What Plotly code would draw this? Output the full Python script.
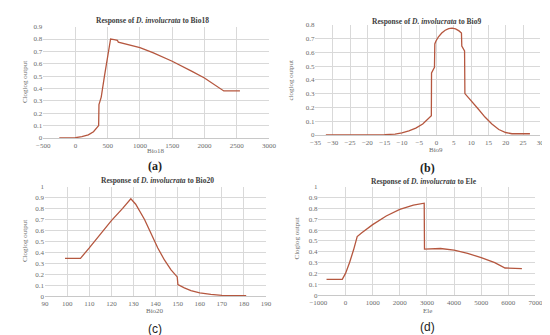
import plotly.graph_objects as go

W, H = 550, 335

# ---- data ----
bio18_x = [-250, 0, 100, 200, 280, 330, 360, 365, 400, 450, 500, 545, 600, 650, 665, 700, 800, 1000, 1200, 1500, 1800, 2000, 2300, 2550]
bio18_y = [0.0, 0.002, 0.01, 0.025, 0.05, 0.08, 0.1, 0.27, 0.33, 0.5, 0.66, 0.80, 0.795, 0.79, 0.775, 0.77, 0.76, 0.73, 0.69, 0.62, 0.54, 0.485, 0.38, 0.38]

bio9_x = [-32, -20, -15, -12, -10, -8, -6, -4, -2.5, -1.5, -1.45, -1.0, -0.6, -0.5, -0.2, 0.5, 1.5, 2.5, 3.5, 4.5, 5.5, 6.5, 7.2, 7.3, 7.9, 8.1, 8.2, 10, 12, 14, 16, 18, 20, 21.8, 27]
bio9_y = [0.0, 0.0, 0.002, 0.007, 0.015, 0.03, 0.05, 0.08, 0.115, 0.14, 0.45, 0.47, 0.49, 0.66, 0.68, 0.71, 0.74, 0.76, 0.772, 0.775, 0.77, 0.755, 0.74, 0.645, 0.625, 0.61, 0.30, 0.25, 0.19, 0.13, 0.08, 0.04, 0.018, 0.009, 0.009]

bio20_x = [99, 106, 110, 115, 120, 125, 128.8, 131, 135, 138, 141, 144, 147, 149.8, 150.1, 153, 156, 160, 165, 170, 175, 181]
bio20_y = [0.345, 0.345, 0.44, 0.565, 0.69, 0.80, 0.89, 0.84, 0.70, 0.57, 0.44, 0.33, 0.24, 0.175, 0.105, 0.075, 0.05, 0.03, 0.015, 0.007, 0.004, 0.003]

ele_x = [-700, -120, 0, 150, 300, 430, 600, 1000, 1500, 2000, 2500, 2900, 2910, 3000, 3500, 4000, 4500, 5000, 5500, 5880, 6500]
ele_y = [0.145, 0.145, 0.20, 0.30, 0.42, 0.54, 0.575, 0.65, 0.73, 0.79, 0.83, 0.848, 0.425, 0.425, 0.43, 0.415, 0.385, 0.345, 0.30, 0.25, 0.245]

panels = [
    dict(x=bio18_x, y=bio18_y, sp="Bio18", xr=[-500, 3000], dx=500, yr=[0, 0.9],
         ytitle="Cloglog output", tag="(a)"),
    dict(x=bio9_x, y=bio9_y, sp="Bio9", xr=[-35, 30], dx=5, yr=[0, 0.8],
         ytitle="cloglog output", tag="(b)"),
    dict(x=bio20_x, y=bio20_y, sp="Bio20", xr=[90, 190], dx=10, yr=[0, 1],
         ytitle="Cloglog output", tag="(c)"),
    dict(x=ele_x, y=ele_y, sp="Ele", xr=[-1000, 7000], dx=1000, yr=[0, 1],
         ytitle="Cloglog output", tag="(d)"),
]

# plot-area pixel boxes: left, right, top, bottom
boxes = [(27, 260, 15, 129), (308, 540, 13, 126), (29, 257, 179, 291), (311, 535, 179, 290)]
# text positions (px)
title_pos = [(140, 9), (423, 10), (145, 173), (420, 174)]
xt_pos = [(143, 142), (432, 141), (142, 306), (424, 306)]
yt_pos = [(9, 72), (283, 70), (9, 235), (289, 232)]
tag_pos = [(142, 158), (424, 160), (142, 325), (424, 323)]

LINE = "#b5573f"
GRID = "#d9d9d9"
TXT = "#6b6b6b"
SERIF = "Liberation Serif"

fig = go.Figure()
layout = dict(width=W, height=H, margin=dict(l=0, r=0, t=0, b=0),
              paper_bgcolor="white", plot_bgcolor="white", showlegend=False)
ann = []

def px(x):
    return x / W

def py(y):
    return 1 - y / H

for i, p in enumerate(panels):
    n = "" if i == 0 else str(i + 1)
    l, r, t, b = boxes[i]
    fig.add_trace(go.Scatter(x=p["x"], y=p["y"], mode="lines",
                             line=dict(color=LINE, width=1.3),
                             xaxis="x" + n, yaxis="y" + n, hoverinfo="skip"))
    layout["xaxis" + n] = dict(domain=[px(l), px(r)], range=p["xr"], dtick=p["dx"],
                              tick0=p["xr"][0], anchor="y" + n,
                              showgrid=True, gridcolor=GRID, gridwidth=0.8,
                              showline=True, linecolor="#c8c8c8", linewidth=0.8,
                              zeroline=False, ticks="", ticklabelstandoff=1,
                              tickfont=dict(family=SERIF, size=7, color=TXT))
    layout["yaxis" + n] = dict(domain=[py(b), py(t)], range=p["yr"], dtick=0.1,
                              anchor="x" + n,
                              showgrid=True, gridcolor=GRID, gridwidth=0.8,
                              showline=False, zeroline=False, ticks="",
                              tickfont=dict(family=SERIF, size=7, color=TXT))
    tx, ty = title_pos[i]
    ann.append(dict(text="<b>Response of <i>D. involucrata</i> to " + p["sp"] + "</b>",
                    x=px(tx), y=py(ty), xref="paper", yref="paper", showarrow=False,
                    xanchor="center", yanchor="middle",
                    font=dict(family=SERIF, size=7.5, color="#404040")))
    ax, ay = xt_pos[i]
    ann.append(dict(text=p["sp"], x=px(ax), y=py(ay), xref="paper", yref="paper",
                    showarrow=False, xanchor="center", yanchor="middle",
                    font=dict(family=SERIF, size=7, color=TXT)))
    yx, yy = yt_pos[i]
    ann.append(dict(text=p["ytitle"], x=px(yx), y=py(yy), xref="paper", yref="paper",
                    showarrow=False, xanchor="center", yanchor="middle", textangle=-90,
                    font=dict(family=SERIF, size=7, color=TXT)))
    gx, gy = tag_pos[i]
    bold = i < 2
    ann.append(dict(text=("<b>%s</b>" % p["tag"]) if bold else p["tag"],
                    x=px(gx), y=py(gy), xref="paper", yref="paper",
                    showarrow=False, xanchor="center", yanchor="middle",
                    font=dict(family=SERIF if bold else "Liberation Sans", size=12, color="#222222")))

layout["annotations"] = ann
fig.update_layout(**layout)
fig.write_html("out.html")
